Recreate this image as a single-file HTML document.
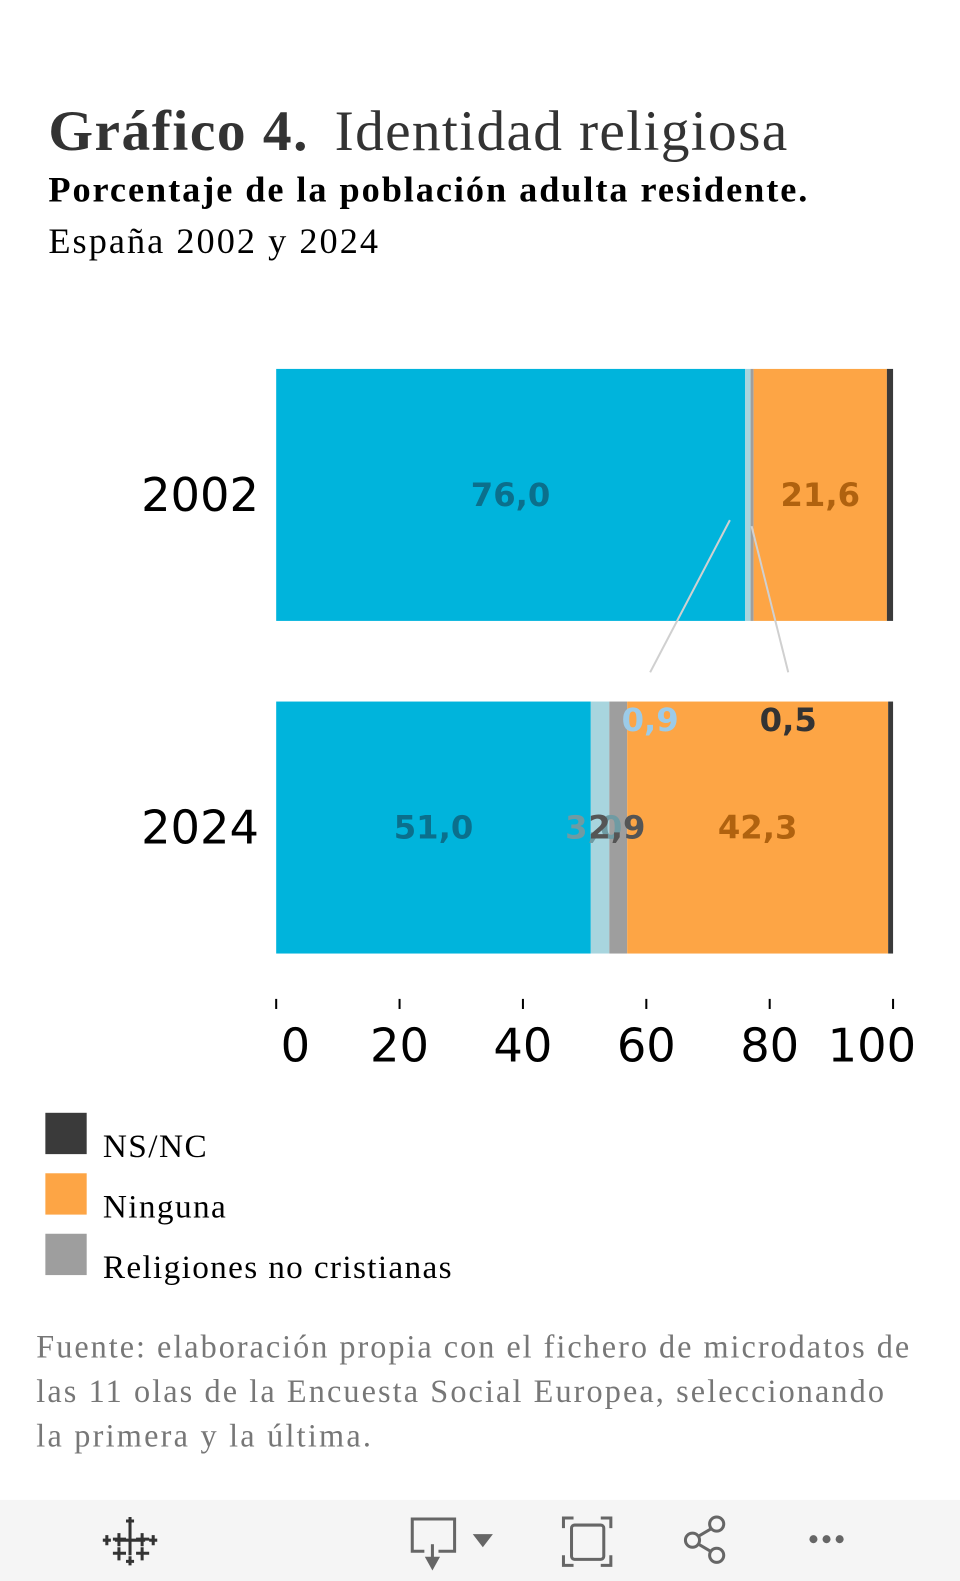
<!DOCTYPE html>
<html><head><meta charset="utf-8"><style>
html,body{margin:0;padding:0;background:#fff;width:960px;height:1581px;overflow:hidden}
svg{display:block}
.serif{font-family:"Liberation Serif",serif}
.sans{font-family:"DejaVu Sans","Liberation Sans",sans-serif}
</style></head><body>
<svg id="c" width="960" height="1581" viewBox="0 0 952.4 1568.5" preserveAspectRatio="none" xmlns="http://www.w3.org/2000/svg">
<g>
<text class="serif" x="48" y="149" font-size="57" fill="#333"><tspan font-weight="bold" textLength="257" lengthAdjust="spacing">Gráfico 4.</tspan><tspan x="332" textLength="449" lengthAdjust="spacing">Identidad religiosa</tspan></text>
<text class="serif" x="48" y="200" font-size="36" font-weight="bold" fill="#000" textLength="753" lengthAdjust="spacing">Porcentaje de la población adulta residente.</text>
<text class="serif" x="48" y="251" font-size="36" fill="#000" textLength="327" lengthAdjust="spacing">España 2002 y 2024</text>
</g>
<g id="bars"></g>
<g id="labels"></g>
<g id="callouts"></g>
<g id="axis"></g>
<g>
<rect x="45" y="1104" width="41" height="41" fill="#3a3a3a"/>
<text class="serif" x="102" y="1148" font-size="33" fill="#000" textLength="103" lengthAdjust="spacing">NS/NC</text>
<rect x="45" y="1164" width="41" height="41" fill="#fda545"/>
<text class="serif" x="102" y="1208" font-size="33" fill="#000" textLength="122" lengthAdjust="spacing">Ninguna</text>
<rect x="45" y="1224" width="41" height="41" fill="#9e9e9e"/>
<text class="serif" x="102" y="1268" font-size="33" fill="#000" textLength="346" lengthAdjust="spacing">Religiones no cristianas</text>
</g>
<g class="serif" font-size="32" fill="#777">
<text x="36" y="1347" textLength="866" lengthAdjust="spacing">Fuente: elaboración propia con el fichero de microdatos de</text>
<text x="36" y="1391" textLength="841" lengthAdjust="spacing">las 11 olas de la Encuesta Social Europea, seleccionando</text>
<text x="36" y="1435" textLength="332" lengthAdjust="spacing">la primera y la última.</text>
</g>
<g>
<rect x="0" y="1488" width="960" height="93" fill="#f5f5f5"/>
<g stroke="#333" stroke-width="3">
<path d="M129 1513v30M114 1528h30M118 1521v13M112 1527h13M141 1521v13M135 1527h13M118 1535v13M112 1541h13M141 1535v13M135 1541h13M129 1505v8M125 1509h8M129 1544v9M125 1549h8M106 1523v10M102 1528h8M152 1523v10M148 1528h8"/>
</g>
<g fill="none" stroke="#666" stroke-width="3">
<path d="M421 1539h-12v-32h42v32h-16"/><path d="M429 1532v14"/><path d="M424 1546l5 9 5-9z" fill="#666"/>
<path d="M469 1522h20l-10 13z" fill="#666" stroke="none"/>
</g>
<g fill="none" stroke="#666" stroke-width="3">
<path d="M559 1516v-10h10M596 1506h10v10M606 1543v10h-10M569 1553h-10v-10"/>
<rect x="567" y="1513" width="32" height="34" rx="3"/>
</g>
<g fill="none" stroke="#666" stroke-width="3">
<circle cx="711" cy="1512" r="7"/><circle cx="687" cy="1528" r="7"/><circle cx="711" cy="1543" r="7"/>
<path d="M705 1517l-12 7M693 1532l12 7"/>
</g>
<g fill="#666">
<circle cx="807" cy="1527" r="4"/><circle cx="820" cy="1527" r="4"/><circle cx="833" cy="1527" r="4"/>
</g>
</g>
</svg>
<script>
const years = ["2002","2024"];
const catolica = [76.0, 51.0];
const otrasCristianas = [0.9, 3.0];
const noCristianas = [0.5, 2.9];
const ninguna = [21.6, 42.3];
const nsnc = [1.0, 0.8];
const ticks = [0,20,40,60,80,100];

const NS="http://www.w3.org/2000/svg";
const x0=274, x1=886;
const xs=v=>x0+(x1-x0)*v/100;
const rowTop=[366,696], barH=250;
const series=[
 {name:"catolica",vals:catolica,fill:"#00b4dc",lbl:"#0b6f8c"},
 {name:"otras-cristianas",vals:otrasCristianas,fill:"#a8d5de",lbl:"#6f9ba3"},
 {name:"no-cristianas",vals:noCristianas,fill:"#9e9e9e",lbl:"#555"},
 {name:"ninguna",vals:ninguna,fill:"#fda545",lbl:"#b0620f"},
 {name:"nsnc",vals:nsnc,fill:"#3a3a3a",lbl:"#333"}
];
const g=document.getElementById('bars');
const lg=document.getElementById('labels');
const cg=document.getElementById('callouts');
function mk(t,a,p){const e=document.createElementNS(NS,t);for(const k in a)e.setAttribute(k,a[k]);(p||g).appendChild(e);return e;}
const fmt=v=>v.toFixed(1).replace('.',',');
years.forEach((y,i)=>{
 const yt=rowTop[i];
 const t=mk('text',{x:257,y:yt+barH/2+16,'text-anchor':'end','font-size':46,fill:'#000',class:'sans'});
 
 
 t.textContent=y;
 let cum=0;
 series.forEach((s,j)=>{
  const v=s.vals[i];
  const r=mk('rect',{x:xs(cum),y:yt,width:Math.max(0,xs(cum+v)-xs(cum)),height:barH,fill:s.fill});
  
  
  const start=cum;
  const mid=xs(cum+v/2);
  cum+=v;
  let lx=mid, ly=yt+barH/2+11, col=s.lbl, show=true, parent=lg;
  if(j===4) show=false;
  if(i===0 && (j===1||j===2)){
   lx = j===1 ? 645 : 782;
   ly = 725;
   col = j===1 ? "#9ccbe8" : "#333";
   parent=cg;
   const l=mk('line',{x1:j===1?xs(start)-15:xs(start)+1,y1:j===1?516:522,x2:j===1?645:782,y2:667,stroke:'#d0d0d0','stroke-width':2},cg);
   
   
  }
  if(i===1 && j===1) lx=589;
  if(i===1 && j===2) lx=612;
  if(show){
   const tx=mk('text',{x:lx,y:ly,'text-anchor':'middle','font-size':32,'font-weight':'bold',fill:col,class:'sans'},parent);
   
   
   tx.textContent=fmt(v);
  }
 });
});
const ax=document.getElementById('axis');
ticks.forEach(t=>{
 const l=mk('line',{x1:xs(t),x2:xs(t),y1:991,y2:1001,stroke:'#000','stroke-width':2},ax);
 
 
 let off=0; if(t===0) off=19; if(t===100) off=-21;
 const tx=mk('text',{x:xs(t)+off,y:1053,'text-anchor':'middle','font-size':46,fill:'#000',class:'sans'},ax);
 
 
 tx.textContent=t;
});
</script>
</body></html>
